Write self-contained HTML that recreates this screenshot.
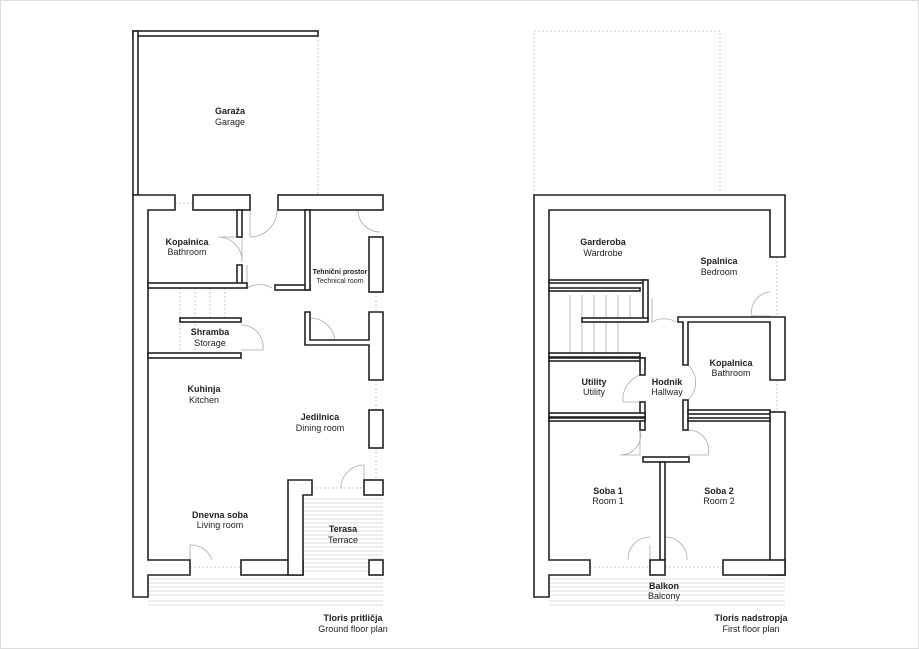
<!DOCTYPE html>
<html><head><meta charset="utf-8"><style>
html,body{margin:0;padding:0;background:#fff;}
svg{display:block}
text{font-family:"Liberation Sans",sans-serif;font-size:9px;fill:#222;text-anchor:middle}
.b{font-weight:bold}
.w{fill:#fff;stroke:#222;stroke-width:1.6}
.d{fill:none;stroke:#aaa;stroke-width:0.8}
.h{stroke:#bbb;stroke-width:0.6}
</style></head><body>
<svg width="919" height="649" viewBox="0 0 919 649" xmlns="http://www.w3.org/2000/svg">
<rect x="0.5" y="0.5" width="918" height="648" fill="none" stroke="#ddd"/>
<g class="h">
<line x1="303" y1="499" x2="383" y2="499"/><line x1="303" y1="503" x2="383" y2="503"/><line x1="303" y1="507" x2="383" y2="507"/><line x1="303" y1="511" x2="383" y2="511"/><line x1="303" y1="515" x2="383" y2="515"/><line x1="303" y1="519" x2="383" y2="519"/><line x1="303" y1="523" x2="383" y2="523"/><line x1="303" y1="527" x2="383" y2="527"/><line x1="303" y1="531" x2="383" y2="531"/><line x1="303" y1="535" x2="383" y2="535"/><line x1="303" y1="539" x2="383" y2="539"/><line x1="303" y1="543" x2="383" y2="543"/><line x1="303" y1="547" x2="383" y2="547"/><line x1="303" y1="551" x2="383" y2="551"/><line x1="303" y1="555" x2="383" y2="555"/><line x1="303" y1="559" x2="383" y2="559"/><line x1="303" y1="563" x2="383" y2="563"/><line x1="303" y1="567" x2="383" y2="567"/><line x1="303" y1="571" x2="383" y2="571"/>
<line x1="148" y1="579" x2="383" y2="579"/><line x1="148" y1="583" x2="383" y2="583"/><line x1="148" y1="587" x2="383" y2="587"/><line x1="148" y1="591" x2="383" y2="591"/><line x1="148" y1="595" x2="383" y2="595"/><line x1="148" y1="601" x2="383" y2="601"/><line x1="148" y1="605" x2="383" y2="605"/>
<line x1="549" y1="579" x2="785" y2="579"/><line x1="549" y1="583" x2="785" y2="583"/><line x1="549" y1="587" x2="785" y2="587"/><line x1="549" y1="591" x2="785" y2="591"/><line x1="549" y1="595" x2="785" y2="595"/><line x1="549" y1="601" x2="785" y2="601"/><line x1="549" y1="605" x2="785" y2="605"/>
</g>
<g fill="none" stroke="#bbb" stroke-width="0.8" stroke-dasharray="2,2">
<line x1="318" y1="36" x2="318" y2="195"/>
<rect x="534" y="31" width="186" height="164"/>
<line x1="175" y1="203" x2="193" y2="203"/>
<line x1="190" y1="567" x2="241" y2="567"/>
<line x1="312" y1="488" x2="364" y2="488"/>
<line x1="590" y1="567" x2="650" y2="567"/>
<line x1="665" y1="567" x2="723" y2="567"/>
<line x1="376" y1="292" x2="376" y2="312"/><line x1="376" y1="380" x2="376" y2="410"/><line x1="376" y1="448" x2="376" y2="480"/>
<line x1="777" y1="257" x2="777" y2="317"/><line x1="777" y1="380" x2="777" y2="412"/>
<line x1="180" y1="288" x2="180" y2="353"/><line x1="195" y1="288" x2="195" y2="353"/><line x1="210" y1="288" x2="210" y2="318"/><line x1="225" y1="288" x2="225" y2="318"/>
</g>
<g class="d"><line x1="570" y1="295" x2="570" y2="353"/><line x1="582" y1="295" x2="582" y2="353"/><line x1="594" y1="295" x2="594" y2="353"/><line x1="606" y1="295" x2="606" y2="353"/><line x1="618" y1="295" x2="618" y2="353"/><line x1="630" y1="295" x2="630" y2="318"/></g>
<g class="d">
<path d="M250 210 V237 A27 27 0 0 0 277 210"/>
<path d="M242 237 H218 A24 24 0 0 1 242 262 Z"/>
<path d="M247 265 V288 A25 25 0 0 1 272 288"/>
<path d="M358 210 A22 22 0 0 0 380 232"/>
<path d="M310 318 V343 M310 318 A25 25 0 0 1 335 343"/>
<path d="M241 325 A22 22 0 0 1 263 350 H241"/>
<path d="M190 560 V545 A22 22 0 0 1 212 560"/>
<path d="M364 488 V465 A23 23 0 0 0 341 488"/>
<path d="M652 298 V322 A24 24 0 0 1 676 322"/>
<path d="M770 292 A20 20 0 0 0 752 316 H770"/>
<path d="M688 365 A24 24 0 0 1 688 400"/>
<path d="M640 375 A26 26 0 0 0 623 402 H640"/>
<path d="M640 430 A20 20 0 0 1 620 455 H640 Z"/>
<path d="M688 430 A20 20 0 0 1 708 455 H688"/>
<path d="M650 545 V560 M650 537 A22 22 0 0 0 628 560"/>
<path d="M665 537 A22 22 0 0 1 687 560"/>
</g>
<g class="w">
<rect x="133" y="31" width="185" height="5"/>
<rect x="133" y="31" width="5" height="164"/>
<path d="M133 195 H175 V210 H148 V560 H190 V575 H148 V597 H133 Z"/>
<rect x="193" y="195" width="57" height="15"/>
<rect x="278" y="195" width="105" height="15"/>
<rect x="237" y="210" width="5" height="27"/>
<rect x="237" y="265" width="5" height="20"/>
<rect x="148" y="283" width="99" height="5"/>
<rect x="275" y="285" width="35" height="5"/>
<rect x="305" y="210" width="5" height="80"/>
<rect x="369" y="237" width="14" height="55"/>
<path d="M305 312 H310 V340 H369 V312 H383 V380 H369 V345 H305 Z"/>
<rect x="369" y="410" width="14" height="38"/>
<rect x="364" y="480" width="19" height="15"/>
<rect x="180" y="318" width="61" height="4"/>
<rect x="148" y="353" width="93" height="5"/>
<rect x="241" y="560" width="62" height="15"/>
<path d="M288 575 V480 H312 V495 H303 V575 Z"/>
<rect x="369" y="560" width="14" height="15"/>
</g>
<g class="w">
<path d="M534 195 H785 V257 H770 V210 H549 V560 H590 V575 H549 V597 H534 Z"/>
<rect x="549" y="280" width="97" height="3"/>
<rect x="643" y="280" width="5" height="40"/>
<rect x="549" y="288" width="91" height="3"/>
<rect x="582" y="318" width="66" height="4"/>
<rect x="549" y="353" width="91" height="4"/>
<path d="M678 317 H785 V380 H770 V322 H688 V365 H683 V322 H678 Z"/>
<rect x="683" y="400" width="5" height="30"/>
<rect x="688" y="410" width="82" height="4"/>
<rect x="770" y="412" width="15" height="163"/>
<rect x="549" y="358" width="96" height="3"/>
<rect x="640" y="358" width="5" height="17"/>
<rect x="640" y="402" width="5" height="28"/>
<rect x="549" y="413" width="96" height="4"/>
<rect x="549" y="418" width="96" height="3"/>
<rect x="688" y="418" width="82" height="3"/>
<rect x="643" y="457" width="46" height="5"/>
<rect x="660" y="462" width="5" height="98"/>
<rect x="650" y="560" width="15" height="15"/>
<rect x="723" y="560" width="62" height="15"/>
</g>
<text x="230" y="114" class="b">Garaža</text><text x="230" y="125">Garage</text>
<text x="187" y="245" class="b">Kopalnica</text><text x="187" y="255">Bathroom</text>
<text x="340" y="274" class="b" style="font-size:7px">Tehnični prostor</text><text x="340" y="283" style="font-size:7px">Technical room</text>
<text x="210" y="335" class="b">Shramba</text><text x="210" y="346">Storage</text>
<text x="204" y="392" class="b">Kuhinja</text><text x="204" y="403">Kitchen</text>
<text x="320" y="420" class="b">Jedilnica</text><text x="320" y="431">Dining room</text>
<text x="220" y="518" class="b">Dnevna soba</text><text x="220" y="528">Living room</text>
<text x="343" y="532" class="b">Terasa</text><text x="343" y="543">Terrace</text>
<text x="353" y="621" class="b">Tloris pritličja</text><text x="353" y="632">Ground floor plan</text>
<text x="603" y="245" class="b">Garderoba</text><text x="603" y="256">Wardrobe</text>
<text x="719" y="264" class="b">Spalnica</text><text x="719" y="275">Bedroom</text>
<text x="731" y="366" class="b">Kopalnica</text><text x="731" y="376">Bathroom</text>
<text x="594" y="385" class="b">Utility</text><text x="594" y="395">Utility</text>
<text x="667" y="385" class="b">Hodnik</text><text x="667" y="395">Hallway</text>
<text x="608" y="494" class="b">Soba 1</text><text x="608" y="504">Room 1</text>
<text x="719" y="494" class="b">Soba 2</text><text x="719" y="504">Room 2</text>
<text x="664" y="589" class="b">Balkon</text><text x="664" y="599">Balcony</text>
<text x="751" y="621" class="b">Tloris nadstropja</text><text x="751" y="632">First floor plan</text>
</svg>
</body></html>
